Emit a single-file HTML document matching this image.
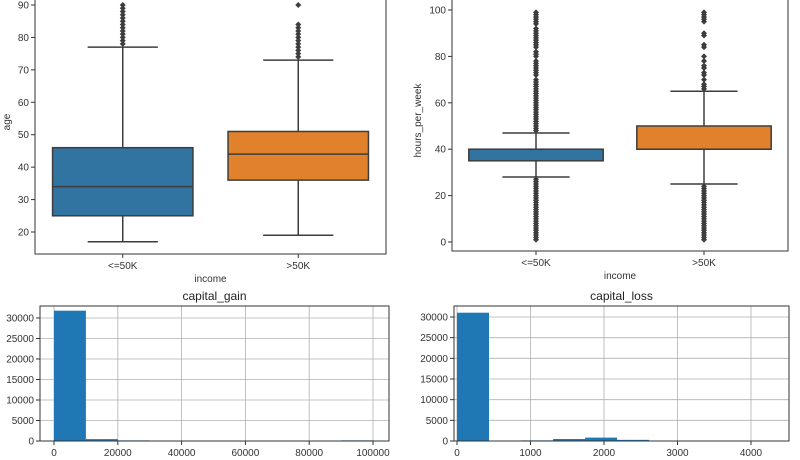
<!DOCTYPE html>
<html><head><meta charset="utf-8"><style>
body{margin:0;background:#fff;}
svg{display:block;font-family:"Liberation Sans","DejaVu Sans",sans-serif;}
</style></head><body>
<svg id="c" width="800" height="460" viewBox="0 0 800 460"></svg>
<script>
// ---- data ----
const groups = ["<=50K", ">50K"];
const ageStats = [[17,25,34,46,77],[19,36,44,51,73]];
const ageOutliers = [[78,79,80,81,82,83,84,85,86,87,88,89,90],[74,75,76,77,78,79,80,81,82,83,84,90]];
const ageTicks = [20,30,40,50,60,70,80,90];
const hoursStats = [[28,35,40,40,47],[25,40,40,50,65]];
const hoursOutliers = [
 [1,2,3,4,5,6,7,8,9,10,11,12,13,14,15,16,17,18,19,20,21,22,23,24,25,26,27,48,49,50,51,52,53,54,55,56,57,58,59,60,61,62,63,64,65,66,67,68,69,70,72,73,74,75,76,77,78,80,81,82,84,85,86,87,88,89,90,91,92,94,95,96,97,98,99],
 [1,2,3,4,5,6,7,8,9,10,11,12,13,14,15,16,17,18,19,20,21,22,23,24,66,67,68,70,72,73,75,76,78,80,84,85,89,90,95,96,97,98,99]];
const hoursTicks = [0,20,40,60,80,100];
const gainEdges = [0,9999.9,19999.8,29999.7,39999.6,49999.5,59999.4,69999.3,79999.2,89999.1,99999];
const gainCounts = [31790,460,150,0,0,0,0,0,0,160];
const gainXTicks = [0,20000,40000,60000,80000,100000];
const lossEdges = [0,435.6,871.2,1306.8,1742.4,2178,2613.6,3049.2,3484.8,3920.4,4356];
const lossCounts = [31040,0,150,480,820,280,20,0,0,5];
const lossXTicks = [0,1000,2000,3000,4000];
const histYTicks = [0,5000,10000,15000,20000,25000,30000];
const boxColors = ["#3274a1","#e1812c"];

const svg = document.getElementById('c');
const NS = "http://www.w3.org/2000/svg";
function el(tag, attrs, parent){const e=document.createElementNS(NS,tag);for(const k in attrs)e.setAttribute(k,attrs[k]);(parent||svg).appendChild(e);return e;}
function txt(s,attrs,parent){const t=el('text',attrs,parent);t.textContent=s;return t;}

function boxPlot(name, ax, stats, outliers, ticks, ylabel, ylabelX){
  const g = el('g',{});
  
  
  const y = v => ax.y0 - (v-ax.v0)*(ax.y1-ax.y0)/(ax.v1-ax.v0)*-1;
  const Y = v => ax.y0 + (v-ax.v0)*(ax.y1-ax.y0)/(ax.v1-ax.v0);
  el('rect',{x:ax.l,y:ax.t,width:ax.r-ax.l,height:ax.b-ax.t,fill:'#fff',stroke:'#333','stroke-width':1},g);
  ticks.forEach(t=>{
    const yy=Y(t);
    el('line',{x1:ax.l-4,x2:ax.l,y1:yy,y2:yy,stroke:'#333'},g);
    const lb=txt(String(t),{x:ax.l-6,y:yy+3.5,'text-anchor':'end','font-size':10,fill:'#333'},g);
    
    
  });
  const n=groups.length, w=(ax.r-ax.l)/n;
  groups.forEach((gname,i)=>{
    const cx=ax.l+w*(i+0.5), bw=w*0.8, cw=bw/4;
    const s=stats[i];
    const bg=el('g',{},g);
    
    
    el('line',{x1:cx,x2:cx,y1:Y(s[0]),y2:Y(s[1]),stroke:'#3d3d3d','stroke-width':1.5},bg);
    el('line',{x1:cx,x2:cx,y1:Y(s[3]),y2:Y(s[4]),stroke:'#3d3d3d','stroke-width':1.5},bg);
    el('line',{x1:cx-cw,x2:cx+cw,y1:Y(s[0]),y2:Y(s[0]),stroke:'#3d3d3d','stroke-width':1.5},bg);
    el('line',{x1:cx-cw,x2:cx+cw,y1:Y(s[4]),y2:Y(s[4]),stroke:'#3d3d3d','stroke-width':1.5},bg);
    el('rect',{x:cx-bw/2,y:Y(s[3]),width:bw,height:Math.max(1,Y(s[1])-Y(s[3])),fill:boxColors[i],stroke:'#3d3d3d','stroke-width':1.5},bg);
    el('line',{x1:cx-bw/2,x2:cx+bw/2,y1:Y(s[2]),y2:Y(s[2]),stroke:'#3d3d3d','stroke-width':1.5},bg);
    outliers[i].forEach(v=>{
      const yy=Y(v);
      el('path',{d:`M${cx} ${yy-3}L${cx+3} ${yy}L${cx} ${yy+3}L${cx-3} ${yy}Z`,fill:'#3d3d3d'},bg);
    });
    el('line',{x1:cx,x2:cx,y1:ax.b,y2:ax.b+4,stroke:'#333'},g);
    const xl=txt(gname,{x:cx,y:ax.b+15,'text-anchor':'middle','font-size':10,fill:'#333'},g);
    
    
  });
  const xt=txt('income',{x:(ax.l+ax.r)/2,y:ax.b+28,'text-anchor':'middle','font-size':10,fill:'#333'},g);
  
  
  const yt=txt(ylabel,{x:0,y:0,transform:`translate(${ylabelX},${(ax.t+ax.b)/2}) rotate(-90)`,'text-anchor':'middle','font-size':10,fill:'#333'},g);
  
  
}

function hist(name, ax, edges, counts, xticks, title){
  const g=el('g',{});
  
  
  const X=v=>ax.x0+(v-ax.u0)*(ax.x1-ax.x0)/(ax.u1-ax.u0);
  const Y=v=>ax.y0-(v)*(ax.y0-ax.y1)/ax.vref;
  el('rect',{x:ax.l,y:ax.t,width:ax.r-ax.l,height:ax.b-ax.t,fill:'#fff',stroke:'#333'},g);
  xticks.forEach(t=>{
    el('line',{x1:X(t),x2:X(t),y1:ax.t,y2:ax.b,stroke:'#b0b0b0','stroke-width':0.8},g);
    el('line',{x1:X(t),x2:X(t),y1:ax.b,y2:ax.b+4,stroke:'#333'},g);
    const lb=txt(String(t),{x:X(t),y:ax.b+15,'text-anchor':'middle','font-size':10,fill:'#333'},g);
    
    
  });
  histYTicks.forEach(t=>{
    el('line',{x1:ax.l,x2:ax.r,y1:Y(t),y2:Y(t),stroke:'#b0b0b0','stroke-width':0.8},g);
    el('line',{x1:ax.l-4,x2:ax.l,y1:Y(t),y2:Y(t),stroke:'#333'},g);
    const lb=txt(String(t),{x:ax.l-6,y:Y(t)+3.5,'text-anchor':'end','font-size':10,fill:'#333'},g);
    
    
  });
  counts.forEach((c,i)=>{
    if(c<=0) return;
    const b=el('rect',{x:X(edges[i]),y:Y(c),width:X(edges[i+1])-X(edges[i]),height:ax.y0-Y(c),fill:'#1f77b4'},g);
    
    
  });
  el('rect',{x:ax.l,y:ax.t,width:ax.r-ax.l,height:ax.b-ax.t,fill:'none',stroke:'#333'},g);
  const tt=txt(title,{x:(ax.l+ax.r)/2,y:ax.t-6,'text-anchor':'middle','font-size':12,fill:'#222'},g);
  
  
}

boxPlot('age-boxplot',{l:35,r:386,t:-10,b:254,v0:20,y0:232,v1:90,y1:5},ageStats,ageOutliers,ageTicks,'age',10);
boxPlot('hours-boxplot',{l:452,r:788,t:-10,b:251,v0:0,y0:242,v1:100,y1:10},hoursStats,hoursOutliers,hoursTicks,'hours_per_week',421);
hist('capital-gain-hist',{l:40,r:389,t:306,b:441,x0:54,u0:0,x1:373,u1:100000,y0:441,y1:318,vref:30000},gainEdges,gainCounts,gainXTicks,'capital_gain');
hist('capital-loss-hist',{l:454,r:789,t:306,b:441,x0:457,u0:0,x1:751,u1:4000,y0:441,y1:317,vref:30000},lossEdges,lossCounts,lossXTicks,'capital_loss');
</script>
</body></html>
